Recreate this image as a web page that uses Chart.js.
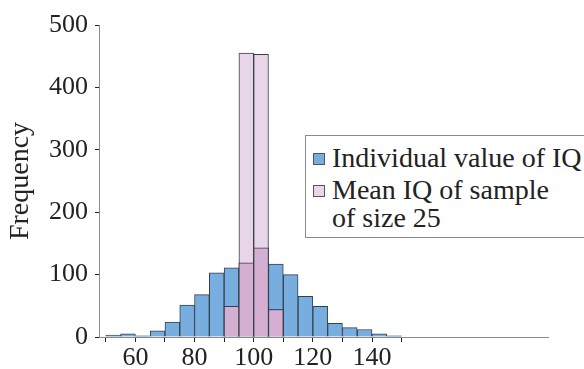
<!DOCTYPE html>
<html>
<head>
  <title>IQ histogram</title>
  <script src="https://cdn.jsdelivr.net/npm/chart.js"></script>
  <style>
    body { margin: 0; background: #fff; }
    .wrap { position: relative; width: 584px; height: 369px; }
    .legend {
      position: absolute; left: 305px; top: 135px; width: 290px; height: 103px;
      border: 1px solid #8a8a8a; border-right: none; box-sizing: border-box;
      font-family: "Liberation Serif", "Times New Roman", serif; font-size: 28px;
      color: #222; background: #fff;
    }
    .legend .item { position: absolute; left: 26px; line-height: 28px; white-space: nowrap; }
    .legend .box {
      position: absolute; left: -19px; top: 9px; width: 10px; height: 10px;
      border: 1px solid #555;
    }
  </style>
</head>
<body>
  <div class="wrap">
    <canvas id="chart" width="584" height="369"></canvas>
    <div class="legend" id="legend"></div>
  </div>
  <script>
    // bins de 5 points de QI, de 50 a 150
    var binStarts = [50, 55, 60, 65, 70, 75, 80, 85, 90, 95, 100, 105, 110, 115, 120, 125, 130, 135, 140, 145];
    var individual = [3, 5, 2, 10, 24, 51, 68, 103, 111, 119, 143, 117, 100, 65, 49, 22, 15, 12, 5, 2];
    var sampleMean = [0, 0, 0, 0, 0, 0, 0, 0, 49, 455, 453, 44, 0, 0, 0, 0, 0, 0, 0, 0];
    var xTicks = [50, 60, 70, 80, 90, 100, 110, 120, 130, 140, 150];
    var xLabels = [60, 80, 100, 120, 140];
    var yTicks = [0, 100, 200, 300, 400, 500];
    var seriesNames = ['Individual value of IQ', ['Mean IQ of sample', 'of size 25']];

    var blue = '#77addf';
    var lightPink = '#e8d5e8';
    var darkPink = '#d4afd2';
    var edge = '#34404c';
    var font = { family: '"Liberation Serif", "Times New Roman", serif', size: 26 };

    function toPoints(values) {
      return values.map(function(v, i) { return { x: binStarts[i] + 2.5, y: v }; });
    }
    // zone commune des deux histogrammes
    var overlap = individual.map(function(v, i) { return Math.min(v, sampleMean[i]); });

    var common = { grouped: false, barPercentage: 1, categoryPercentage: 1, borderWidth: 1, borderColor: edge };

    new Chart(document.getElementById('chart'), {
      type: 'bar',
      data: {
        datasets: [
          Object.assign({ label: 'overlap', data: toPoints(overlap), backgroundColor: darkPink, order: 0 }, common),
          Object.assign({ label: 'mean', data: toPoints(sampleMean), backgroundColor: lightPink, order: 1 }, common),
          Object.assign({ label: 'individual', data: toPoints(individual), backgroundColor: blue, order: 2 }, common)
        ]
      },
      options: {
        responsive: false,
        animation: false,
        layout: { padding: { top: 25, right: 36, left: 0, bottom: 0 } },
        plugins: { legend: { display: false }, tooltip: { enabled: false } },
        scales: {
          x: {
            type: 'linear',
            offset: false,
            min: 47.7, max: 199.5,
            grid: { offset: false, drawOnChartArea: false, drawTicks: true, tickLength: 5, color: '#222' },
            border: { color: '#8a8a8a', width: 1 },
            afterBuildTicks: function(axis) {
              axis.ticks = xTicks.map(function(v) { return { value: v }; });
            },
            afterFit: function(axis) { axis.height = 32; },
            ticks: {
              autoSkip: false, maxRotation: 0, padding: 1, color: '#222', font: font,
              callback: function(v) { return xLabels.indexOf(v) >= 0 ? String(v) : ''; }
            }
          },
          y: {
            min: 0, max: 500,
            grid: { drawOnChartArea: false, drawTicks: true, tickLength: 4, color: '#222' },
            border: { color: '#8a8a8a', width: 1 },
            afterBuildTicks: function(axis) {
              axis.ticks = yTicks.map(function(v) { return { value: v }; });
            },
            afterFit: function(axis) { axis.width = 99; },
            ticks: { padding: 7, color: '#222', font: font },
            title: { display: true, text: 'Frequency', color: '#222', font: { family: font.family, size: 28 } }
          }
        }
      }
    });

    // legende
    var legend = document.getElementById('legend');
    var colors = [blue, lightPink];
    var tops = [8, 40];
    seriesNames.forEach(function(name, i) {
      var item = document.createElement('div');
      item.className = 'item';
      item.style.top = tops[i] + 'px';
      var lines = Array.isArray(name) ? name : [name];
      item.innerHTML = '<span class="box" style="background:' + colors[i] + '"></span>' + lines.join('<br>');
      legend.appendChild(item);
    });
  </script>
</body>
</html>
